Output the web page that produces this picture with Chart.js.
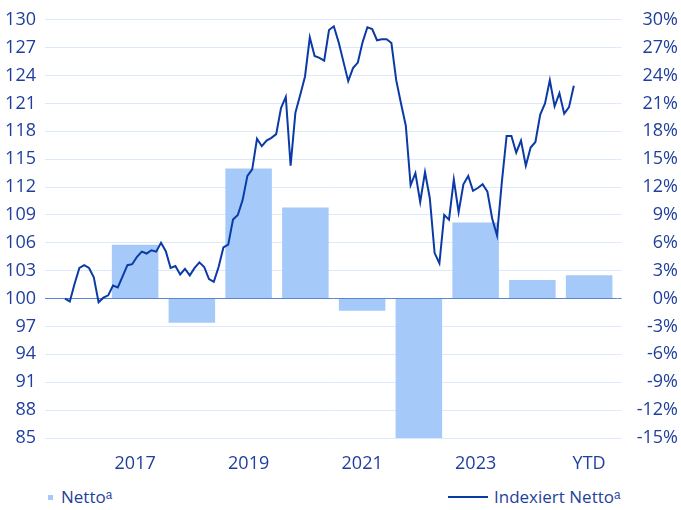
<!DOCTYPE html>
<html>
<head>
<meta charset="utf-8">
<script src="https://cdn.jsdelivr.net/npm/chart.js@4.4.1/dist/chart.umd.min.js"></script>
<style>
  body { margin: 0; background: #fff; font-family: "Open Sans", sans-serif; }
  #wrap { position: relative; width: 681px; height: 478px; }
  .legend { position: absolute; top: 484px; left: 0; width: 681px; height: 26px; font-size: 17px; color: #1f3f9c; }
  .item { position: absolute; top: 0; line-height: 26px; white-space: nowrap; }
  .box { display: inline-block; width: 5px; height: 5px; background: #a5cafa; vertical-align: middle; margin-right: 8px; position: relative; top: -1px; }
  .ln { display: inline-block; width: 40px; height: 2px; background: #0b3aa6; vertical-align: middle; margin-right: 6px; position: relative; top: -1px; }
</style>
</head>
<body>
<div id="wrap"><canvas id="chart" width="681" height="478"></canvas></div>
<div class="legend">
  <div class="item" style="left:48px"><span class="box"></span>Nettoᵃ</div>
  <div class="item" style="left:448px"><span class="ln"></span>Indexiert Nettoᵃ</div>
</div>
<script>
// Jahre (Balken)
var kategorien = ['2016', '2017', '2018', '2019', '2020', '2021', '2022', '2023', '2024', 'YTD'];
var netto = [null, 5.8, -2.6, 14.0, 9.8, -1.3, -15.0, 8.2, 2.0, 2.5];

// Indexiert Netto, monatlich ab April 2016
var indexiert = [
    100.0, 99.7, 101.6, 103.3, 103.6, 103.3, 102.3, 99.6, 100.1, 100.35,
    101.4, 101.2, 102.4, 103.6, 103.7, 104.5, 105.05, 104.85, 105.2, 105.05,
    106.0, 105.1, 103.3, 103.5, 102.6, 103.2, 102.5, 103.3, 103.9, 103.4,
    102.1, 101.8, 103.4, 105.5, 105.8, 108.5, 109.0, 110.6, 113.2, 113.9,
    117.2, 116.4, 117.0, 117.3, 117.7, 120.5, 121.7, 114.3, 120.0, 121.9,
    123.9, 128.1, 126.1, 125.9, 125.6, 128.9, 129.3, 127.6, 125.5, 123.4,
    124.8, 125.4, 127.6, 129.2, 129.0, 127.8, 127.9, 127.9, 127.5, 123.5,
    121.0, 118.6, 112.2, 113.5, 110.4, 113.6, 110.8, 104.9, 103.8, 109.0,
    108.5, 112.8, 109.3, 112.3, 113.2, 111.6, 111.9, 112.3, 111.5, 108.6,
    106.8, 112.5, 117.5, 117.5, 115.7, 117.0, 114.3, 116.25, 116.85, 119.8,
    121.0, 123.5, 120.7, 122.1, 119.9, 120.6, 122.9
];

// Achsen
var ticksLinks = [85, 88, 91, 94, 97, 100, 103, 106, 109, 112, 115, 118, 121, 124, 127, 130];
var ticksRechts = [-15, -12, -9, -6, -3, 0, 3, 6, 9, 12, 15, 18, 21, 24, 27, 30];

var textFarbe = '#1f3f9c';
var gitter = '#dce8fb';
var nullLinie = '#5c84d4';
var schrift = { family: 'Open Sans', size: 18 };

var punkte = indexiert.map(function (v, i) { return { x: i, y: v }; });

new Chart(document.getElementById('chart'), {
    data: {
        labels: kategorien,
        datasets: [
            {
                type: 'line',
                label: 'Indexiert Nettoᵃ',
                data: punkte,
                xAxisID: 'x2',
                yAxisID: 'y',
                borderColor: '#0b3aa6',
                borderWidth: 2,
                pointRadius: 0,
                tension: 0,
                order: 0
            }, {
                type: 'bar',
                label: 'Nettoᵃ',
                data: netto,
                xAxisID: 'x',
                yAxisID: 'y2',
                backgroundColor: '#a5cafa',
                grouped: false,
                barPercentage: 1,
                categoryPercentage: 0.82,
                order: 1
            }
        ]
    },
    options: {
        responsive: false,
        animation: false,
        layout: { padding: { left: 0, right: 3, top: 4, bottom: 0 } },
        plugins: { legend: { display: false }, tooltip: { enabled: false } },
        scales: {
            x: {
                type: 'category',
                grid: { display: false, drawTicks: false },
                border: { display: false },
                afterFit: function (a) { a.height = 40; },
                ticks: {
                    color: textFarbe, font: schrift, padding: 15,
                    autoSkip: false, maxRotation: 0,
                    callback: function (v, i) { return i % 2 === 1 ? kategorien[i] : ''; }
                }
            },
            x2: {
                type: 'linear',
                display: false,
                min: -3.125,
                max: 115.1
            },
            y: {
                position: 'left',
                min: 85, max: 130,
                afterBuildTicks: function (axis) { axis.ticks = ticksLinks.map(function (v) { return { value: v }; }); },
                afterFit: function (a) { a.width = 50; },
                grid: {
                    color: function (c) { return c.tick && c.tick.value === 100 ? nullLinie : gitter; },
                    tickLength: 5
                },
                border: { display: false },
                ticks: { color: textFarbe, font: schrift, padding: 9 }
            },
            y2: {
                position: 'right',
                min: -15, max: 30,
                afterBuildTicks: function (axis) { axis.ticks = ticksRechts.map(function (v) { return { value: v }; }); },
                afterFit: function (a) { a.width = 60.5; },
                grid: {
                    drawOnChartArea: false,
                    color: function (c) { return c.tick && c.tick.value === 0 ? nullLinie : gitter; },
                    tickLength: 4
                },
                border: { display: false },
                ticks: {
                    color: textFarbe, font: schrift, padding: 9, crossAlign: 'far',
                    callback: function (v) { return v + '%'; }
                }
            }
        }
    }
});
</script>
</body>
</html>
